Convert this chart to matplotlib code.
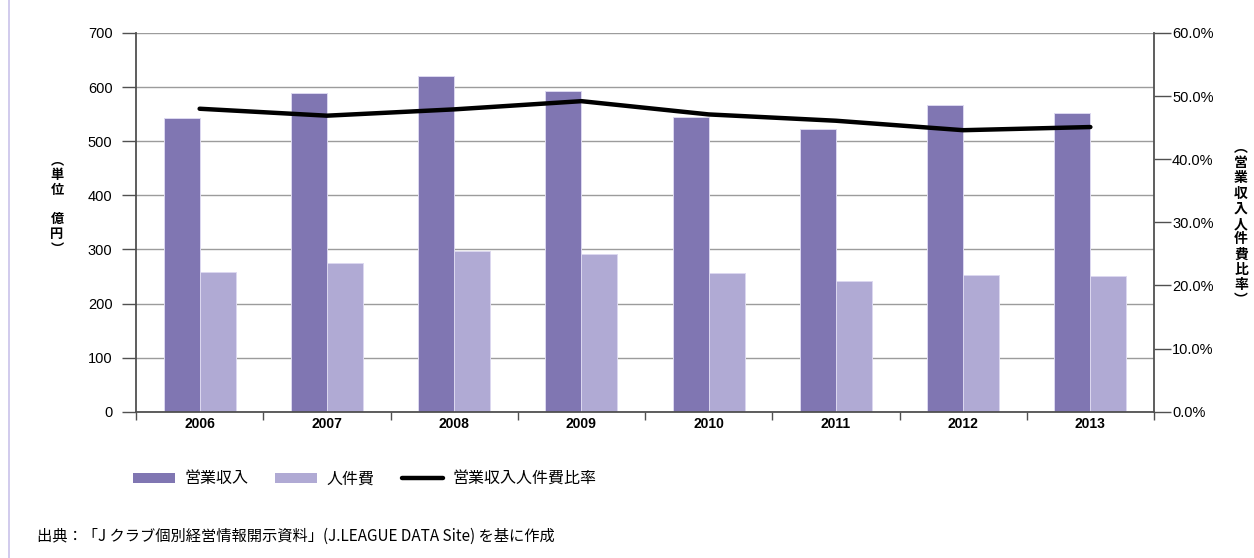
import numpy as np
import matplotlib
matplotlib.use("Agg")
import matplotlib.pyplot as plt
from matplotlib.lines import Line2D
from matplotlib.patches import Patch

# --- data -------------------------------------------------------------
years = ["2006", "2007", "2008", "2009", "2010", "2011", "2012", "2013"]
revenue = [543, 589, 621, 593, 544, 523, 567, 552]          # 営業収入 (億円)
personnel = [259, 275, 297, 291, 256, 241, 253, 250]        # 人件費 (億円)
ratio = [48.0, 46.9, 47.9, 49.2, 47.1, 46.1, 44.6, 45.1]    # 営業収入人件費比率 (%)

left_ticks = [0, 100, 200, 300, 400, 500, 600, 700]
right_ticks = [0, 10, 20, 30, 40, 50, 60]

# --- style ------------------------------------------------------------
DARK = "#8076b2"
LIGHT = "#b0aad4"
EDGE = "#dcd8f0"
GRID = "#9c9c9c"
SPINE = "#505050"
JP = ["Noto Sans CJK JP", "DejaVu Sans"]
LAT = ["Liberation Sans", "DejaVu Sans"]

plt.rcParams["font.family"] = LAT

W, H = 1254, 558
fig = plt.figure(figsize=(W / 100, H / 100), dpi=100)
fig.patch.set_facecolor("white")

x0, x1 = 136, 1154
y0, y1 = 33, 411.7
ax = fig.add_axes([x0 / W, 1 - y1 / H, (x1 - x0) / W, (y1 - y0) / H])

x = np.arange(len(years))
bw = 0.283
ax.bar(x - bw / 2, revenue, bw, color=DARK, edgecolor=EDGE, linewidth=0.7, zorder=2)
ax.bar(x + bw / 2, personnel, bw, color=LIGHT, edgecolor=EDGE, linewidth=0.7, zorder=2)

ax.set_xlim(-0.5, len(years) - 0.5)
ax.set_ylim(0, 700)
ax.set_yticks(left_ticks)
ax.set_yticklabels([str(v) for v in left_ticks], fontsize=10.5)
ax.yaxis.grid(True, color=GRID, linewidth=1.0, zorder=0)
ax.set_axisbelow(True)

ax.set_xticks(np.arange(-0.5, len(years), 1.0))
ax.set_xticklabels([])
ax.set_xticks(x, minor=True)
ax.set_xticklabels(years, minor=True, fontsize=10, fontweight="bold")
ax.tick_params(axis="x", which="major", direction="out", length=6, width=1.0, color=SPINE)
ax.tick_params(axis="x", which="minor", length=0, pad=4)
ax.tick_params(axis="y", direction="out", length=10, width=1.0, color=SPINE, pad=7)

for side in ("top", "right"):
    ax.spines[side].set_visible(False)
for side in ("left", "bottom"):
    ax.spines[side].set_color(SPINE)
    ax.spines[side].set_linewidth(1.3)

ax2 = ax.twinx()
ax2.plot(x, ratio, color="black", linewidth=3.2, solid_capstyle="round",
         solid_joinstyle="round", zorder=5)
ax2.set_ylim(0, 60)
ax2.set_yticks(right_ticks)
ax2.set_yticklabels([f"{v:.1f}%" for v in right_ticks], fontsize=10.5)
ax2.tick_params(axis="y", direction="out", length=12, width=1.0, color=SPINE, pad=1)
for side in ("top", "left", "bottom"):
    ax2.spines[side].set_visible(False)
ax2.spines["right"].set_color(SPINE)
ax2.spines["right"].set_linewidth(1.3)


def vertical_text(xp, ytop, chars, step, size):
    """Stack characters top-to-bottom (pixel coordinates)."""
    y = ytop
    for ch in chars:
        if ch != " ":
            fig.text(xp / W, 1 - y / H, ch, ha="center", va="center",
                     fontsize=size, fontweight="bold", family=JP)
        y += step


# axis titles, written vertically
vertical_text(57, 160, ["︵", "単", "位", " ", "億", "円", "︶"], 14.8, 9.5)
vertical_text(1241, 148, ["︵", "営", "業", "収", "入", "人", "件", "費", "比", "率", "︶"], 15.2, 10)

# legend
handles = [
    Patch(facecolor=DARK, edgecolor="none"),
    Patch(facecolor=LIGHT, edgecolor="none"),
    Line2D([0], [0], color="black", linewidth=3.2, solid_capstyle="round"),
]
labels = ["営業収入", "人件費", "営業収入人件費比率"]
fig.legend(handles, labels, loc="center left", bbox_to_anchor=(133 / W, 1 - 479 / H),
           ncol=3, frameon=False, prop={"family": JP, "size": 11.5},
           borderpad=0, borderaxespad=0,
           handlelength=2.6, handleheight=0.55, handletextpad=0.6, columnspacing=1.7)

# source note
fig.text(37 / W, 1 - 536 / H,
         "出典：「J クラブ個別経営情報開示資料」(J.LEAGUE DATA Site) を基に作成",
         ha="left", va="center", fontsize=11, family=JP)

# page border on the left
fig.add_artist(Line2D([8.5 / W, 8.5 / W], [0, 1], color="#c9c2ea", linewidth=1.2))

fig.savefig("out.png", dpi=100, facecolor="white")
